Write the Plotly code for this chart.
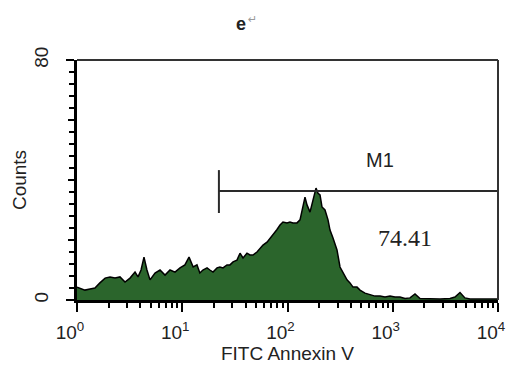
import plotly.graph_objects as go

# Histogram channels (FITC Annexin V intensity) and counts
fitc = [1.00, 1.09, 1.19, 1.33, 1.48, 1.65, 1.85, 2.06, 2.30, 2.56, 2.86, 3.19, 3.56, 3.80,
        4.06, 4.33, 4.62, 4.94, 5.51, 6.15, 6.86, 7.65, 8.53, 9.52, 10.6, 11.6, 12.7, 13.8,
        14.7, 15.7, 17.2, 18.3, 19.6, 21.4, 22.8, 24.4, 26.6, 28.4, 30.4, 33.1, 35.4, 37.8,
        41.2, 44.0, 47.0, 51.3, 54.8, 58.5, 63.9, 68.2, 72.8, 79.5, 84.9, 90.6, 98.9, 105.6,
        112.8, 123.1, 131.5, 140.4, 146.6, 153.2, 163.6, 174.7, 186.6, 195.0, 203.7, 212.8,
        227.1, 242.6, 253.4, 270.6, 295.3, 315.4, 336.8, 367.6, 392.5, 419.1, 457.5, 488.5,
        544.8, 607.6, 678.4, 756.8, 844.0, 941.9, 1050, 1172, 1308, 1459, 1627, 1816, 2259,
        2811, 3498, 3900, 4355, 4853, 5420, 6745, 8395, 10000]
counts = [4.3, 3.7, 3.3, 3.7, 4.0, 5.7, 7.3, 7.7, 7.3, 7.7, 6.0, 7.3, 9.3, 7.7,
          10.0, 14.3, 10.0, 6.7, 9.0, 10.0, 8.3, 10.0, 9.3, 10.7, 11.7, 14.3, 11.0, 11.7,
          9.0, 10.0, 10.7, 10.0, 9.3, 10.7, 11.0, 10.7, 11.7, 11.7, 12.7, 13.3, 15.6, 14.0,
          15.6, 15.0, 15.0, 16.0, 17.3, 18.3, 19.3, 20.5, 21.5, 23.5, 25.0, 26.0, 25.7, 26.0,
          25.7, 25.7, 26.7, 31.0, 34.3, 31.7, 29.3, 33.3, 37.3, 35.6, 35.0, 31.0,
          30.0, 26.7, 23.3, 20.7, 16.7, 11.0, 9.0, 6.7, 5.7, 4.3, 4.3, 3.3,
          2.3, 1.7, 1.3, 1.3, 1.0, 1.3, 1.0, 1.0, 0.5, 0.7, 2.0, 0.5, 0.3,
          0.3, 0.5, 1.0, 2.5, 0.7, 0.3, 0.3, 0.3, 0.3]

# Marker gate M1
gate_start = 22.3
gate_end = 10000
gate_level = 36.3
gate_tick_top = 43.3
gate_tick_bottom = 29.0
gate_name = "M1"
gate_percent = "74.41"

x_tickvals = [1, 10, 100, 1000, 10000]
x_ticktext = ["10<sup>0</sup>", "10<sup>1</sup>", "10<sup>2</sup>", "10<sup>3</sup>", "10<sup>4</sup>"]
x_minor = [m * d for d in (1, 10, 100, 1000) for m in range(2, 10)]
y_labelvals = [0, 80]
y_labeltext = ["0", "80"]
y_midvals = [20, 40, 60]

fig = go.Figure()
fig.add_trace(go.Scatter(x=fitc, y=counts, mode="lines",
                         line=dict(color="black", width=1.5),
                         fill="tozeroy", fillcolor="#2b652c", showlegend=False))
fig.add_trace(go.Scatter(x=[gate_start, gate_end], y=[gate_level, gate_level], mode="lines",
                         line=dict(color="#2a2a2a", width=2), showlegend=False))
fig.add_trace(go.Scatter(x=[gate_start, gate_start], y=[gate_tick_top, gate_tick_bottom], mode="lines",
                         line=dict(color="#2a2a2a", width=2), showlegend=False))
# invisible trace to hold the secondary tick axis (long ticks at 20/40/60)
fig.add_trace(go.Scatter(x=[fitc[0]], y=[0], yaxis="y2", mode="markers",
                         marker=dict(opacity=0), showlegend=False, hoverinfo="skip"))

fig.add_annotation(x=2.88, y=46.7, xref="x", yref="y", text=gate_name, showarrow=False,
                   font=dict(family="Liberation Sans", size=20, color="#222"))
fig.add_annotation(x=3.116, y=20.7, xref="x", yref="y", text=gate_percent, showarrow=False,
                   font=dict(family="Liberation Serif", size=24, color="#222"))
fig.add_annotation(x=0.39, y=1.15, xref="paper", yref="paper", yanchor="middle",
                   text="<b>e</b>", showarrow=False,
                   font=dict(family="Liberation Sans", size=18, color="#222"))
fig.add_annotation(x=0.416, y=1.168, xref="paper", yref="paper", yanchor="middle",
                   text="↵", showarrow=False,
                   font=dict(family="DejaVu Sans", size=11, color="#999"))

fig.add_shape(type="line", xref="paper", yref="paper", x0=0, x1=1, y0=1, y1=1,
              line=dict(color="#333", width=2))
fig.add_shape(type="line", xref="paper", yref="paper", x0=1, x1=1, y0=0, y1=1,
              line=dict(color="#333", width=2))

fig.update_layout(
    width=516, height=366,
    margin=dict(l=77, r=18, t=60, b=66),
    paper_bgcolor="white", plot_bgcolor="white",
    font=dict(family="Liberation Sans", color="#222"),
    xaxis=dict(type="log", range=[0, 4], showgrid=False, zeroline=False, automargin=False,
               showline=True, linecolor="black", linewidth=3,
               ticks="outside", ticklen=9, tickwidth=2, tickcolor="black",
               tickmode="array", tickvals=x_tickvals, ticktext=x_ticktext,
               tickfont=dict(size=19, color="#222"), ticklabelstandoff=4, ticklabelshift=-7,
               minor=dict(tickmode="array", tickvals=x_minor, ticks="outside",
                          ticklen=5, tickwidth=2, tickcolor="black", showgrid=False),
               title=dict(text="FITC Annexin V", font=dict(size=19, color="#222"), standoff=4)),
    yaxis=dict(range=[0, 80], showgrid=False, zeroline=False, automargin=False,
               showline=True, linecolor="black", linewidth=3,
               ticks="outside", ticklen=8, tickwidth=2, tickcolor="black",
               tickmode="array", tickvals=y_labelvals, ticktext=y_labeltext,
               tickangle=-90, tickfont=dict(size=19, color="#222"), ticklabelstandoff=10,
               minor=dict(dtick=4, ticks="outside", ticklen=5, tickwidth=2,
                          tickcolor="black", showgrid=False),
               title=dict(text="Counts", font=dict(size=19, color="#222"), standoff=0)),
    yaxis2=dict(range=[0, 80], overlaying="y", side="left", showgrid=False, zeroline=False,
                automargin=False, showline=False, showticklabels=False,
                ticks="outside", ticklen=8, tickwidth=2, tickcolor="black",
                tickmode="array", tickvals=y_midvals),
)

fig.write_html("out.html", config={"displayModeBar": False},
               post_script="document.body.style.margin='0';document.body.style.overflow='hidden';")
